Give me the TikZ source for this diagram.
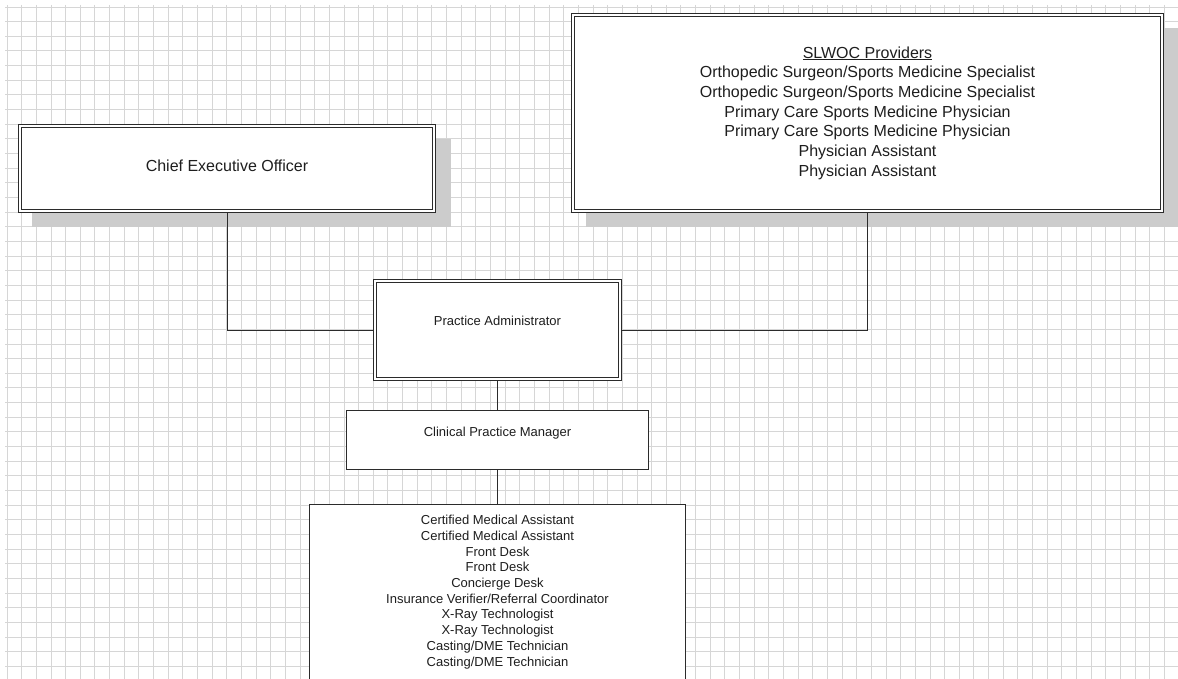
\documentclass[tikz,border=0pt]{standalone}
\usepackage{fontspec}
\setmainfont{Liberation Sans}
\definecolor{gridc}{HTML}{D6D6D6}
\definecolor{shadowc}{HTML}{CCCCCC}
\definecolor{linec}{HTML}{2B2B2B}
\definecolor{txtc}{HTML}{1E1E1E}
\pgfdeclarelayer{bg}
\pgfsetlayers{bg,main}
\begin{document}
\begin{tikzpicture}[x=1pt,y=-1pt,
  dbox/.style={draw=linec, double=white, double distance=2pt, line width=1pt, fill=white, inner sep=0pt, text=txtc, align=center},
  sbox/.style={draw=linec, line width=1pt, fill=white, inner sep=0pt, text=txtc, align=center},
  conn/.style={draw=linec, line width=1pt},
  gridline/.style={draw=gridc, line width=0.9pt},
  shadowbox/.style={fill=shadowc},
  bigfont/.style={font=\fontsize{16}{19.7}\selectfont},
  smallfont/.style={font=\fontsize{13}{15.7}\selectfont}]
\useasboundingbox (0,0) rectangle (1178,679);

% nodes
\node[dbox, bigfont, minimum width=414pt, minimum height=85pt, text depth=5pt] (ceo) at (227,168.5) {Chief Executive Officer};
\node[dbox, bigfont, minimum width=589pt, minimum height=196pt] (slwoc) at (867.5,113)
  {\underline{SLWOC Providers}\\
   Orthopedic Surgeon/Sports Medicine Specialist\\
   Orthopedic Surgeon/Sports Medicine Specialist\\
   Primary Care Sports Medicine Physician\\
   Primary Care Sports Medicine Physician\\
   Physician Assistant\\
   Physician Assistant};
\node[dbox, smallfont, minimum width=245pt, minimum height=98pt, text depth=18pt] (pa) at (497.5,330) {Practice Administrator};
\node[sbox, smallfont, minimum width=302pt, minimum height=59pt, text depth=15pt] (cpm) at (497.5,439.5) {Clinical Practice Manager};
\node[fill=white, inner sep=0pt, text=txtc, align=center, smallfont, minimum width=375pt, minimum height=174pt] (staff) at (497.5,592)
  {Certified Medical Assistant\\
   Certified Medical Assistant\\
   Front Desk\\
   Front Desk\\
   Concierge Desk\\
   Insurance Verifier/Referral Coordinator\\
   X-Ray Technologist\\
   X-Ray Technologist\\
   Casting/DME Technician\\
   Casting/DME Technician};
\draw[conn] ([yshift=-30pt]staff.south west) -- (staff.north west) -- (staff.north east) -- ([yshift=-30pt]staff.south east);

\begin{pgfonlayer}{bg}
  % grid
  \foreach \i in {0,...,79} \draw[gridline] ({7+14.65*\i},5) -- ({7+14.65*\i},679);
  \foreach \j in {0,...,45} \draw[gridline] (5,{7+14.65*\j}) -- (1178,{7+14.65*\j});
  % shadows
  \fill[shadowbox] (32,139) rectangle (451,227);
  \fill[shadowbox] (586,28) rectangle (1190,227);
  % connectors
  \draw[conn] (ceo.south) |- (pa.west);
  \draw[conn] (slwoc.south) |- (pa.east);
  \draw[conn] (pa.south) -- (cpm.north);
  \draw[conn] (cpm.south) -- (staff.north);
\end{pgfonlayer}
\end{tikzpicture}
\end{document}
